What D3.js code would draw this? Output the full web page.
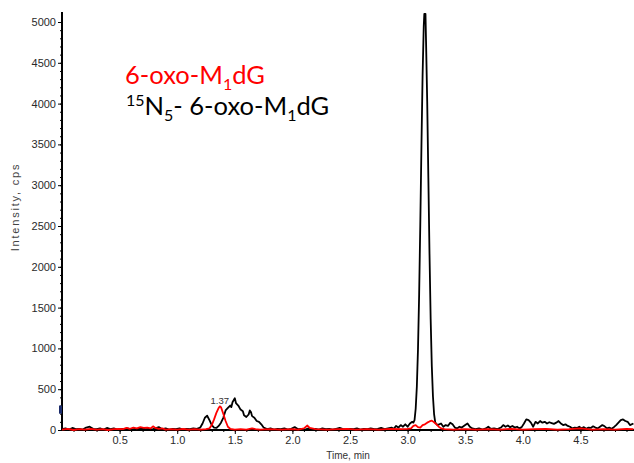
<!DOCTYPE html>
<html>
<head>
<meta charset="utf-8">
<script src="https://cdn.jsdelivr.net/npm/d3@7"></script>
<style>
  body { margin: 0; background: #fff; }
  svg { display: block; }
  .tick text { font-family: "Liberation Sans Narrow", "Liberation Sans", sans-serif; font-size: 11px; fill: #2a2a2a; }
  .axis path, .axis line { stroke: #000; }
</style>
</head>
<body>
<div id="chart"></div>
<script>
// time (min), intensity (cps)
const blackTrace = [
  [0.00, 10], [0.03, 20], [0.06, 5], [0.09, 25], [0.12, 10], [0.15, 15], [0.18, 5], [0.21, 30], [0.24, 40], [0.27, 15],
  [0.30, 10], [0.33, 20], [0.36, 5], [0.39, 25], [0.42, 10], [0.45, 20], [0.48, 5], [0.51, 15], [0.54, 10], [0.57, 20],
  [0.60, 5], [0.63, 15], [0.66, 10], [0.69, 25], [0.72, 10], [0.75, 15], [0.78, 5], [0.81, 20], [0.84, 35], [0.87, 10],
  [0.90, 20], [0.93, 5], [0.96, 15], [0.99, 10], [1.02, 20], [1.05, 5], [1.08, 15], [1.11, 10], [1.14, 20], [1.17, 15],
  [1.20, 30], [1.22, 80], [1.24, 150], [1.26, 175], [1.28, 120], [1.30, 60], [1.32, 30], [1.34, 25], [1.36, 50], [1.38, 90],
  [1.40, 150], [1.42, 240], [1.44, 270], [1.46, 300], [1.47, 280], [1.48, 340], [1.50, 390], [1.51, 330], [1.53, 300], [1.55, 250],
  [1.57, 230], [1.58, 180], [1.60, 160], [1.62, 190], [1.63, 240], [1.64, 220], [1.65, 170], [1.67, 150], [1.69, 110], [1.71, 100],
  [1.73, 70], [1.75, 30], [1.78, 10], [1.81, 20], [1.84, 5], [1.87, 15], [1.90, 10], [1.93, 20], [1.96, 5], [1.99, 15],
  [2.02, 35], [2.05, 10], [2.08, 15], [2.11, 5], [2.14, 20], [2.17, 10], [2.20, 15], [2.23, 5], [2.26, 20], [2.29, 10],
  [2.32, 15], [2.35, 5], [2.38, 15], [2.41, 25], [2.44, 10], [2.47, 5], [2.50, 15], [2.53, 10], [2.56, 20], [2.59, 5],
  [2.62, 15], [2.65, 10], [2.68, 20], [2.71, 10], [2.74, 15], [2.77, 25], [2.80, 10], [2.83, 20], [2.86, 30], [2.88, 15],
  [2.90, 50], [2.92, 30], [2.94, 60], [2.96, 40], [2.98, 70], [3.00, 40], [3.02, 80], [3.04, 100], [3.05, 90], [3.06, 120],
  [3.07, 260], [3.08, 530], [3.09, 990], [3.10, 1660], [3.11, 2520], [3.12, 3480], [3.13, 4350], [3.14, 4950], [3.145, 5100], [3.155, 5100],
  [3.16, 4760], [3.17, 4030], [3.18, 3090], [3.19, 2160], [3.20, 1360], [3.21, 780], [3.22, 410], [3.23, 190], [3.24, 90], [3.26, 60],
  [3.29, 80], [3.31, 40], [3.33, 60], [3.35, 50], [3.37, 90], [3.39, 70], [3.41, 30], [3.43, 20], [3.45, 40], [3.47, 30],
  [3.50, 60], [3.52, 80], [3.54, 40], [3.56, 20], [3.59, 10], [3.62, 20], [3.65, 5], [3.68, 20], [3.70, 40], [3.72, 15],
  [3.75, 20], [3.78, 10], [3.81, 30], [3.83, 60], [3.85, 40], [3.87, 55], [3.89, 35], [3.91, 50], [3.93, 30], [3.95, 40],
  [3.97, 20], [3.99, 35], [4.01, 80], [4.03, 130], [4.05, 120], [4.07, 90], [4.09, 40], [4.11, 100], [4.13, 80], [4.15, 110],
  [4.17, 90], [4.19, 100], [4.21, 80], [4.23, 95], [4.25, 85], [4.27, 75], [4.29, 90], [4.31, 110], [4.33, 80], [4.35, 60],
  [4.37, 70], [4.39, 50], [4.41, 40], [4.43, 20], [4.45, 30], [4.47, 25], [4.49, 40], [4.51, 20], [4.53, 35], [4.55, 15],
  [4.57, 30], [4.59, 25], [4.61, 45], [4.63, 30], [4.65, 20], [4.67, 40], [4.69, 60], [4.71, 45], [4.73, 20], [4.75, 30],
  [4.77, 15], [4.79, 35], [4.81, 60], [4.83, 90], [4.85, 120], [4.87, 130], [4.89, 110], [4.91, 100], [4.93, 60], [4.96, 80]
];

const redTrace = [
  [0.00, 5], [0.05, 15], [0.10, 0], [0.15, 10], [0.20, 5], [0.25, 15], [0.30, 5], [0.35, 10], [0.40, 0], [0.45, 10],
  [0.50, 15], [0.53, 10], [0.56, 25], [0.59, 15], [0.62, 30], [0.65, 20], [0.68, 35], [0.71, 25], [0.74, 30], [0.77, 20],
  [0.79, 45], [0.81, 25], [0.84, 15], [0.87, 20], [0.90, 5], [0.95, 10], [1.00, 5], [1.05, 15], [1.10, 5], [1.15, 10],
  [1.20, 5], [1.25, 10], [1.28, 20], [1.30, 60], [1.32, 130], [1.34, 210], [1.36, 270], [1.37, 290], [1.38, 280], [1.40, 200],
  [1.42, 110], [1.44, 40], [1.46, 15], [1.50, 5], [1.55, 10], [1.60, 5], [1.65, 20], [1.68, 10], [1.72, 5], [1.80, 10],
  [1.90, 5], [2.00, 10], [2.05, 5], [2.10, 20], [2.13, 55], [2.15, 25], [2.20, 10], [2.30, 5], [2.40, 10], [2.48, 15],
  [2.55, 5], [2.65, 10], [2.75, 5], [2.85, 15], [2.95, 10], [3.00, 15], [3.03, 20], [3.05, 50], [3.07, 60], [3.09, 35],
  [3.11, 30], [3.13, 60], [3.15, 70], [3.17, 90], [3.19, 105], [3.21, 115], [3.23, 95], [3.25, 70], [3.27, 40], [3.29, 20],
  [3.32, 10], [3.40, 5], [3.50, 10], [3.60, 5], [3.70, 10], [3.80, 5], [3.90, 15], [4.00, 5], [4.10, 10], [4.20, 15],
  [4.30, 5], [4.40, 10], [4.50, 20], [4.60, 5], [4.70, 10], [4.80, 5], [4.90, 15], [4.96, 10]
];

const peakLabels = [{ t: 1.37, v: 290, text: '1.37' }];
const xTickValues = [0.5, 1.0, 1.5, 2.0, 2.5, 3.0, 3.5, 4.0, 4.5];
const yTickValues = [0, 500, 1000, 1500, 2000, 2500, 3000, 3500, 4000, 4500, 5000];

const width = 634
const height = 463
const marginLeft = 62
const marginTop = 22
const plotBottom = 430

const svg = d3.select('#chart')
    .append('svg')
    .attr('width', width)
    .attr('height', height)

const x = d3.scaleLinear().domain([0, 4.965]).range([marginLeft, width])
const y = d3.scaleLinear().domain([0, 5000]).range([plotBottom, marginTop])

// minor ticks
svg.append('g')
    .attr('class', 'axis')
    .attr('transform', `translate(${marginLeft},0)`)
    .call(d3.axisLeft(y).tickValues(d3.range(0, 5100, 100)).tickSize(2).tickFormat(''))
    .call(g => g.select('.domain').remove())
svg.append('g')
    .attr('class', 'axis')
    .attr('transform', `translate(0,${plotBottom})`)
    .call(d3.axisBottom(x).tickValues(d3.range(1, 50).map(d => d / 10)).tickSize(2).tickFormat(''))
    .call(g => g.select('.domain').remove())

// major axes
svg.append('g')
    .attr('class', 'axis')
    .attr('transform', `translate(${marginLeft},0)`)
    .call(d3.axisLeft(y).tickValues(yTickValues).tickSize(4).tickPadding(2).tickFormat(d3.format('d')))
    .call(g => g.select('.domain').attr('d', `M0,${plotBottom}V${marginTop - 10}`).attr('stroke-width', 2))
svg.append('g')
    .attr('class', 'axis')
    .attr('transform', `translate(0,${plotBottom})`)
    .call(d3.axisBottom(x).tickValues(xTickValues).tickSize(4).tickPadding(2).tickFormat(d3.format('.1f')))
    .call(g => g.select('.domain').attr('d', `M${marginLeft},0H${width}`).attr('stroke-width', 2))

// small threshold marker on the y axis
svg.append('rect')
    .attr('x', marginLeft - 3)
    .attr('y', y(300))
    .attr('width', 3)
    .attr('height', y(200) - y(300))
    .attr('fill', '#1a2a6a')

const line = d3.line()
    .x(d => x(d[0]))
    .y(d => y(d[1]))

svg.append('path')
    .datum(blackTrace)
    .attr('fill', 'none')
    .attr('stroke', '#000')
    .attr('stroke-width', 1.8)
    .attr('stroke-linejoin', 'round')
    .attr('d', line)

svg.append('path')
    .datum(redTrace)
    .attr('fill', 'none')
    .attr('stroke', '#ff0000')
    .attr('stroke-width', 1.8)
    .attr('stroke-linejoin', 'round')
    .attr('d', line)

svg.selectAll('.peak-label')
    .data(peakLabels)
    .enter()
    .append('text')
    .attr('class', 'peak-label')
    .attr('x', d => x(d.t))
    .attr('y', d => y(d.v) - 2)
    .attr('text-anchor', 'middle')
    .style('font-family', '"Liberation Sans Narrow", sans-serif')
    .style('font-size', '9.5px')
    .style('fill', '#333')
    .text(d => d.text)

// axis titles
svg.append('text')
    .attr('x', 348)
    .attr('y', 459)
    .attr('text-anchor', 'middle')
    .style('font-family', '"Liberation Sans Narrow", sans-serif')
    .style('font-size', '10px')
    .style('fill', '#333')
    .text('Time, min')

svg.append('text')
    .attr('transform', 'translate(19,207) rotate(-90)')
    .attr('text-anchor', 'middle')
    .style('font-family', '"Liberation Sans", sans-serif')
    .style('font-size', '11px')
    .style('letter-spacing', '1.8px')
    .style('fill', '#444')
    .text('Intensity, cps')

// legend
const legend = svg.append('g')
    .style('font-family', 'Lato, sans-serif')
    .style('font-size', '25.5px')

const l1 = legend.append('text').attr('x', 125).attr('y', 84).style('fill', '#ff0000')
l1.append('tspan').text('6-oxo-M')
l1.append('tspan').attr('dy', 6).style('font-size', '16px').text('1')
l1.append('tspan').attr('dy', -6).text('dG')

const l2 = legend.append('text').attr('x', 126).attr('y', 115).style('fill', '#000')
l2.append('tspan').attr('dy', -9).style('font-size', '16px').text('15')
l2.append('tspan').attr('dy', 9).text('N')
l2.append('tspan').attr('dy', 6).style('font-size', '16px').text('5')
l2.append('tspan').attr('dy', -6).text('- 6-oxo-M')
l2.append('tspan').attr('dy', 6).style('font-size', '16px').text('1')
l2.append('tspan').attr('dy', -6).text('dG')
</script>
</body>
</html>
